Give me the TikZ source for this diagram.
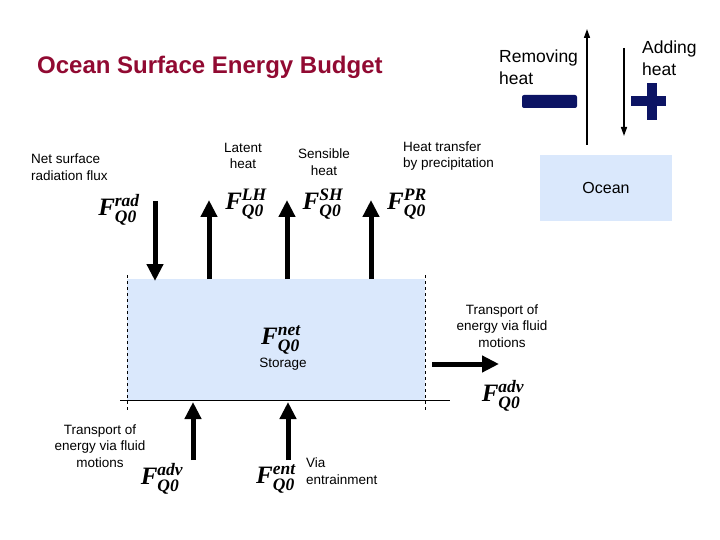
\documentclass[tikz,border=0pt]{standalone}
\usepackage{amsmath}
\usepackage{fontspec}
\setmainfont{Liberation Sans}
\newfontfamily\fluxfont{Liberation Serif}
\usepackage{xcolor}
\definecolor{budgetred}{RGB}{145,10,50}
\definecolor{heatnavy}{RGB}{12,20,100}
\definecolor{oceanblue}{RGB}{218,232,252}
\usepackage{tikz}
\usetikzlibrary{arrows.meta, positioning}

\newcommand{\fluxlabel}[1]{F\ensuremath{^{\text{#1}}_{\text{Q0}}}}

\tikzset{
  bigarrow/.style={line width=5pt, -{Triangle[width=16pt,length=17pt]}},
  thinarrow/.style={line width=1.5pt, -{Triangle[width=6pt,length=9pt]}},
  label/.style={font=\fontsize{13.5}{16.5}\selectfont, align=center, inner sep=0pt},
  fluxtext/.style={font=\fluxfont\bfseries\itshape\fontsize{25}{25}\selectfont, inner sep=0pt},
  signtext/.style={font=\fontsize{17.5}{21.5}\selectfont, align=left, inner sep=0pt}
}

\begin{document}
\begin{tikzpicture}[x=1pt, y=-1pt]
\useasboundingbox (0,0) rectangle (720,540);

% --- Title ---
\node[font=\bfseries\fontsize{24}{27}\selectfont, budgetred, anchor=west, inner sep=0pt]
      (title) at (37,67) {Ocean Surface Energy Budget};

% --- Sign convention (top right) ---
\node[signtext, anchor=west] (removing) at (499,67) {Removing\\heat};
\node[signtext, anchor=west] (adding) at (642,58) {Adding\\heat};
\fill[heatnavy, rounded corners=2pt] (522,95) rectangle (577,108);
\fill[heatnavy] (631,96) rectangle (666,106);
\fill[heatnavy] (647,83) rectangle (657,120);
\node[fill=oceanblue, minimum width=132pt, minimum height=66pt, inner sep=0pt,
      font=\fontsize{16}{18}\selectfont] (ocean) at (606,188) {Ocean};
\coordinate (up-bot) at (587,145);
\coordinate (up-top) at (587,29);
\draw[thinarrow] (up-bot) -- (up-top);
\coordinate (down-top) at (624,48);
\coordinate (down-bot) at (624,136);
\draw[thinarrow] (down-top) -- (down-bot);

% --- Ocean layer ---
\node[fill=oceanblue, minimum width=298pt, minimum height=121pt, inner sep=0pt,
      anchor=north west] (layer) at (127,279) {};
\draw[dashed] (127,275) -- (127,412);
\draw[dashed] (425,275) -- (425,412);
\draw (120,400) -- (450,400);
\node[fluxtext] (fnet) at (281,340) {\fluxlabel{net}};
\node[label] (storage) at (283,364) {Storage};

% --- Surface fluxes ---
\node[label, align=left, anchor=west] (radtext) at (31,167) {Net surface\\radiation flux};
\node[label] (lhtext) at (243,156) {Latent\\heat};
\node[label] (shtext) at (324,162) {Sensible\\heat};
\node[label, align=left, anchor=west] (prtext) at (403,156) {Heat transfer\\by precipitation};

\node[fluxtext] (frad) at (119,210) {\fluxlabel{rad}};
\node[fluxtext] (flh) at (246,204) {\fluxlabel{LH}};
\node[fluxtext] (fsh) at (323,204) {\fluxlabel{SH}};
\node[fluxtext] (fpr) at (407,204) {\fluxlabel{PR}};

\coordinate (rad-top) at (155,201);
\draw[bigarrow] (rad-top) -- (155,281);
\foreach \xpos in {209,287,371} {
    \draw[bigarrow] (\xpos,279) -- (\xpos,200);
}

% --- Lateral transport ---
\node[label] (advtext) at (502,326) {Transport of\\energy via fluid\\motions};
\node[fluxtext] (fadv) at (503,396) {\fluxlabel{adv}};
\coordinate (adv-start) at (432,364);
\coordinate (adv-end) at (499,364);
\draw[bigarrow] (adv-start) -- (adv-end);

% --- Bottom fluxes ---
\node[label] (advtext2) at (100,446) {Transport of\\energy via fluid\\motions};
\node[fluxtext] (fadv2) at (162,479) {\fluxlabel{adv}};
\node[fluxtext] (fent) at (276,479) {\fluxlabel{ent}};
\node[label, align=left, anchor=west] (enttext) at (306,471) {Via\\entrainment};
\foreach \xpos in {193,288} {
    \draw[bigarrow] (\xpos,460) -- (\xpos,402);
}

\end{tikzpicture}
\end{document}
